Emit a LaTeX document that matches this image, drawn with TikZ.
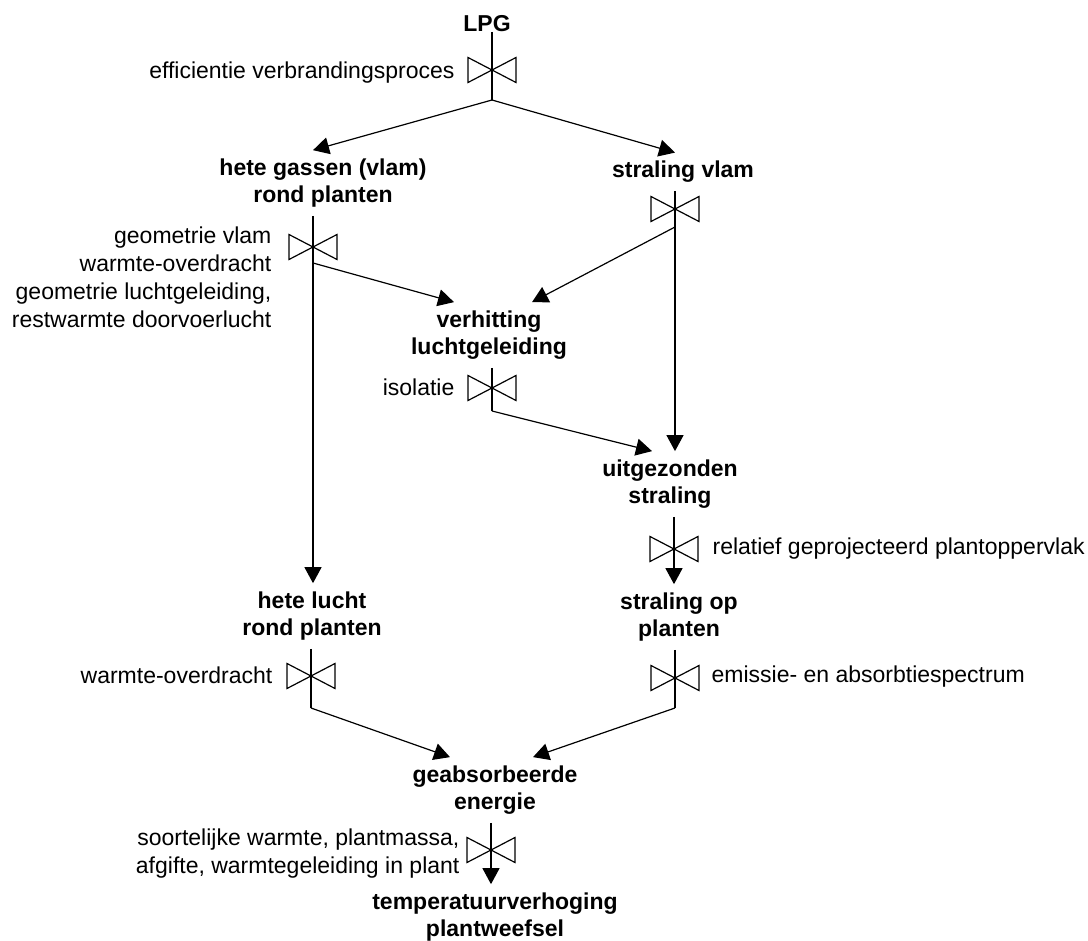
\documentclass[tikz,border=0pt]{standalone}
\usepackage{fontspec}
\setmainfont{Liberation Sans}
\usetikzlibrary{arrows.meta}
\newcommand{\valve}[3]{ \draw (#1,#2) ++(-24,-12.5) -- ++(48,25) -- ++(0,-25)
  -- ++(-48,25) -- cycle (#1,#2) coordinate (#3); }

\begin{document}
\begin{tikzpicture}[x=0.5pt, y=-0.5pt, line width=0.6pt,
    font=\fontsize{11.5pt}{14pt}\selectfont,
    stage/.style={font=\fontsize{11.5pt}{13.5pt}\selectfont\bfseries,
      align=center, inner xsep=2pt, inner ysep=4pt},
    note/.style={inner sep=0pt, align=right},
    flow/.style={-{Triangle[length=8pt,width=8.5pt]}}]
  \useasboundingbox (0,0) rectangle (1088,941);

  \node[stage] (lpg) at (487,24) {LPG};
  \node[stage] (gas) at (323,183) {hete gassen (vlam)\\rond planten};
  \node[stage] (vlam) at (683,172) {straling vlam};
  \node[stage] (verh) at (489,335) {verhitting\\luchtgeleiding};
  \node[stage] (uitg) at (670,484) {uitgezonden\\straling};
  \node[stage] (hot) at (312,616) {hete lucht\\rond planten};
  \node[stage] (opp) at (679,617) {straling op\\planten};
  \node[stage] (abs) at (495,790) {geabsorbeerde\\energie};
  \node[stage] (temp) at (495,917) {temperatuurverhoging\\plantweefsel};

  \valve{492}{70}{v1}
  \valve{313}{247}{v2}
  \valve{675}{209}{v3}
  \valve{492}{388}{v4}
  \valve{674}{549}{v5}
  \valve{675}{678}{v6}
  \valve{311}{676}{v7}
  \valve{491}{850}{v8}

  \coordinate (split) at (492,100);
  \coordinate (b2) at (313,263);
  \coordinate (b3) at (675,227);
  \coordinate (b4) at (492,411);
  \coordinate (b6) at (675,708);
  \coordinate (b7) at (311,708);

  \draw (lpg.base -| v1) -- (split);
  \draw[flow] (split) -- (gas.north -| v2);
  \draw[flow] (split) -- (vlam.north -| v3);
  \draw[flow] (gas.south -| v2) -- (hot.north -| v2);
  \draw[flow] (b2) -- ([xshift=-17.5pt]verh.north);
  \draw[flow] (vlam.south -| v3) -- (uitg.north -| v3);
  \draw[flow] (b3) -- ([xshift=21.5pt]verh.north);
  \draw (verh.south -| v4) -- (b4);
  \draw[flow] (b4) -- ([xshift=-9pt]uitg.north);
  \draw[flow] (uitg.south -| v5) -- (opp.north -| v5);
  \draw (hot.south -| v7) -- (b7);
  \draw[flow] (b7) -- ([xshift=-22.5pt]abs.north);
  \draw (opp.south -| v6) -- (b6);
  \draw[flow] (b6) -- ([xshift=19pt]abs.north);
  \draw[flow] (abs.south -| v8) -- (temp.north -| v8);

  \node[note, anchor=east] (n1) at (455,73) {efficientie verbrandingsproces};
  \node[note, anchor=north east] (n2) at (272,226) {geometrie vlam\\warmte-overdracht\\geometrie luchtgeleiding,\\restwarmte doorvoerlucht};
  \node[note, anchor=east] (n4) at (455,387) {isolatie};
  \node[note, anchor=west] (n5) at (712,549) {relatief geprojecteerd plantoppervlak};
  \node[note, anchor=east] (n7) at (273,675) {warmte-overdracht};
  \node[note, anchor=west] (n6) at (711,677) {emissie- en absorbtiespectrum};
  \node[note, anchor=north east] (n8) at (460,828) {soortelijke warmte, plantmassa,\\afgifte, warmtegeleiding in plant};
\end{tikzpicture}
\end{document}
